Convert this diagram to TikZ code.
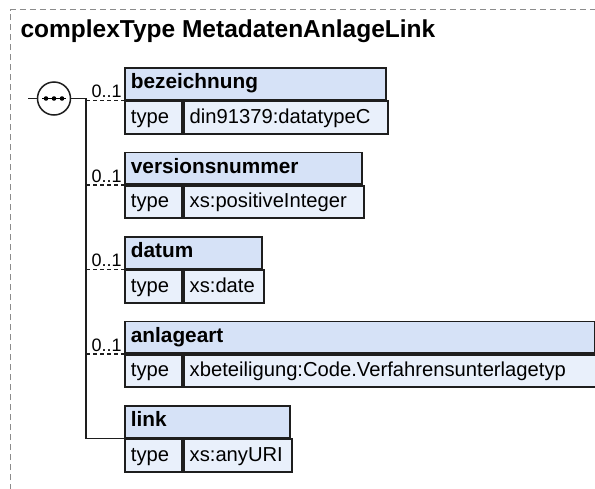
\documentclass[tikz,border=0pt]{standalone}
\usepackage{fontspec}
\setmainfont{Liberation Sans}
\usetikzlibrary{positioning, calc}

\definecolor{hdrfill}{RGB}{214,226,247}
\definecolor{rowfill}{RGB}{233,240,251}
\definecolor{boxline}{RGB}{30,30,30}
\definecolor{framegray}{RGB}{140,140,140}

\tikzset{
  elhead/.style={draw=boxline, line width=1.8pt, fill=hdrfill, anchor=north west,
    minimum height=31.5pt, inner xsep=6pt, inner ysep=0pt, text height=15pt, text depth=4.5pt,
    align=left, font=\fontsize{20.8}{24}\selectfont\bfseries},
  elcell/.style={draw=boxline, line width=1.8pt, fill=rowfill, anchor=north west,
    minimum height=32.5pt, inner xsep=6pt, inner ysep=0pt, text height=16pt, text depth=4.5pt,
    align=left, font=\fontsize{20.2}{24}\selectfont},
  wire/.style={line width=1.5pt, draw=boxline},
  optwire/.style={wire, dash pattern=on 4pt off 3pt},
  card/.style={above left, inner sep=1.5pt, font=\fontsize{18}{21}\selectfont},
}

\begin{document}
\begin{tikzpicture}[x=1pt, y=-1pt]
        \useasboundingbox (0,0) rectangle (595,488);

        % Frame
        \draw[framegray, line width=1pt, dash pattern=on 6pt off 4pt] (10.5,600) -- (10.5,9.5) -- (700,9.5);
        \node[anchor=base west, font=\fontsize{24.5}{28}\selectfont\bfseries] (title) at (17,37) {complexType MetadatenAnlageLink};

        % Sequence
        \coordinate (inlet) at (28,98.5);
        \coordinate (spine) at (86,98.5);
        \node[circle, draw=boxline, line width=1.5pt, fill=white, minimum size=33pt, inner sep=0pt] (seq) at (54,98.5) {};
        \draw[line width=1.2pt] ([xshift=-12pt]seq.center) -- ([xshift=12pt]seq.center);
        \foreach \dx in {-8,0,8}
            \fill ([xshift=\dx pt]seq.center) circle (2.3pt);

        % bezeichnung
        \node[elhead, text width=249pt] (bez) at (124,67) {bezeichnung};
        \node[elcell, text width=45pt] (bezT) at (bez.south west) {type};
        \node[elcell, text width=192pt] (bezV) at (bezT.north east) {din91379:datatypeC};

        % versionsnummer
        \node[elhead, text width=225pt] (ver) at (124,151.5) {versionsnummer};
        \node[elcell, text width=45pt] (verT) at (ver.south west) {type};
        \node[elcell, text width=168pt] (verV) at (verT.north east) {xs:positiveInteger};

        % datum
        \node[elhead, text width=125pt] (dat) at (124,236) {datum};
        \node[elcell, text width=45pt] (datT) at (dat.south west) {type};
        \node[elcell, text width=68pt] (datV) at (datT.north east) {xs:date};

        % anlageart
        \node[elhead, text width=458pt] (anl) at (124,320.5) {anlageart};
        \node[elcell, text width=45pt] (anlT) at (anl.south west) {type};
        \node[elcell, text width=401pt] (anlV) at (anlT.north east) {xbeteiligung:Code.Verfahrensunterlagetyp};

        % link
        \node[elhead, text width=153pt] (lnk) at (124,405) {link};
        \node[elcell, text width=45pt] (lnkT) at (lnk.south west) {type};
        \node[elcell, text width=96pt] (lnkV) at (lnkT.north east) {xs:anyURI};

        % Connectors
        \draw[wire] (inlet) -- (seq.west);
        \draw[wire] (seq.east) -- (spine) -- (spine |- lnk.south west) -- (lnk.south west);
        \draw[optwire] (spine |- bez.south west) -- (bez.south west) node[card] {0..1};
        \draw[optwire] (spine |- ver.south west) -- (ver.south west) node[card] {0..1};
        \draw[optwire] (spine |- dat.south west) -- (dat.south west) node[card] {0..1};
        \draw[optwire] (spine |- anl.south west) -- (anl.south west) node[card] {0..1};

    \end{tikzpicture}
\end{document}
